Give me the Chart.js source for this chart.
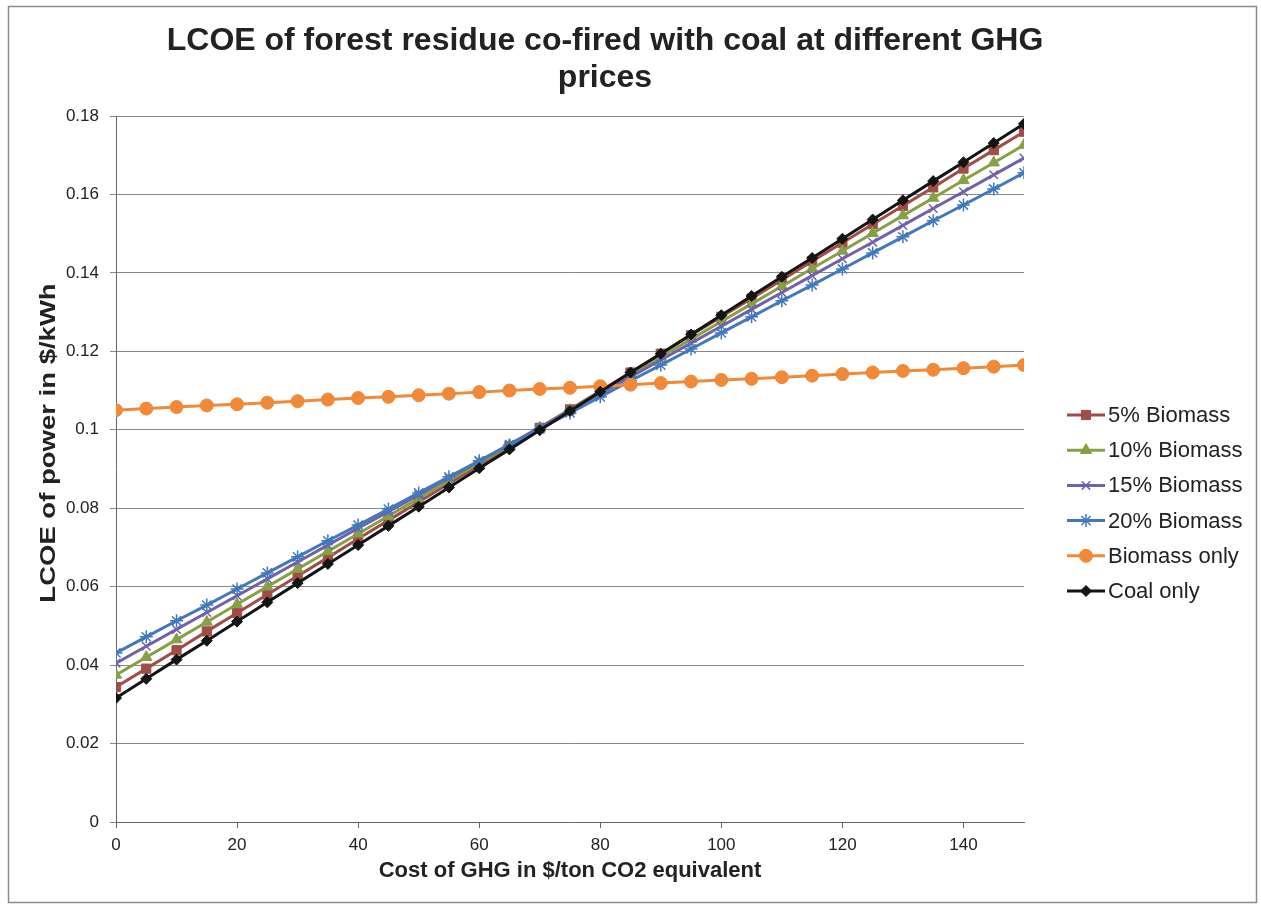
<!DOCTYPE html>
<html>
<head>
<meta charset="utf-8">
<script src="https://cdn.jsdelivr.net/npm/chart.js@4.4.1/dist/chart.umd.min.js"></script>
<style>
html,body{margin:0;padding:0;background:#fff;}
#wrap{width:1261px;height:907px;position:relative;}
</style>
</head>
<body>
<div id="wrap"><canvas id="c" width="1261" height="907"></canvas></div>
<script>
const titleLines = ["LCOE of forest residue co-fired with coal at different GHG", "prices"];
const xTitle = "Cost of GHG in $/ton CO2 equivalent";
const yTitle = "LCOE of power in $/kWh";

const ghgCost = [0,5,10,15,20,25,30,35,40,45,50,55,60,65,70,75,80,85,90,95,100,105,110,115,120,125,130,135,140,145,150];

const biomass5 = [0.0344,0.0391,0.0438,0.0486,0.0533,0.0580,0.0627,0.0674,0.0722,0.0769,0.0816,0.0863,0.0910,0.0958,0.1005,0.1052,0.1099,0.1146,0.1194,0.1241,0.1288,0.1335,0.1382,0.1430,0.1477,0.1524,0.1571,0.1618,0.1666,0.1713,0.1760];
const biomass10 = [0.0375,0.0420,0.0465,0.0510,0.0555,0.0600,0.0645,0.0690,0.0735,0.0780,0.0825,0.0870,0.0915,0.0960,0.1005,0.1050,0.1096,0.1141,0.1186,0.1231,0.1276,0.1321,0.1366,0.1411,0.1456,0.1501,0.1546,0.1591,0.1636,0.1681,0.1726];
const biomass15 = [0.0405,0.0448,0.0491,0.0534,0.0577,0.0620,0.0663,0.0706,0.0749,0.0791,0.0834,0.0877,0.0920,0.0963,0.1006,0.1049,0.1092,0.1135,0.1178,0.1221,0.1264,0.1307,0.1350,0.1393,0.1436,0.1478,0.1521,0.1564,0.1607,0.1650,0.1693];
const biomass20 = [0.0431,0.0472,0.0513,0.0553,0.0594,0.0635,0.0676,0.0717,0.0757,0.0798,0.0839,0.0880,0.0921,0.0961,0.1002,0.1043,0.1084,0.1125,0.1165,0.1206,0.1247,0.1288,0.1329,0.1369,0.1410,0.1451,0.1492,0.1533,0.1573,0.1614,0.1655];
const biomassOnly = [0.1050,0.1054,0.1058,0.1062,0.1065,0.1069,0.1073,0.1077,0.1081,0.1084,0.1088,0.1092,0.1096,0.1100,0.1104,0.1107,0.1111,0.1115,0.1119,0.1123,0.1127,0.1130,0.1134,0.1138,0.1142,0.1146,0.1150,0.1153,0.1157,0.1161,0.1165];
const coalOnly = [0.0316,0.0365,0.0414,0.0462,0.0511,0.0560,0.0609,0.0658,0.0706,0.0755,0.0804,0.0853,0.0902,0.0950,0.0999,0.1048,0.1097,0.1146,0.1194,0.1243,0.1292,0.1341,0.1390,0.1438,0.1487,0.1536,0.1585,0.1634,0.1682,0.1731,0.1780];

const seriesNames = ["5% Biomass","10% Biomass","15% Biomass","20% Biomass","Biomass only","Coal only"];
const seriesValues = [biomass5, biomass10, biomass15, biomass20, biomassOnly, coalOnly];
const seriesColors = ["#A04D48","#86A043","#7161AB","#4179BC","#F08A38","#141414"];
const seriesMarkers = ["rect","triangle","crossRot","star","circle","rectRot"];
const markerRadius = [6.5,6.5,6,6.5,6.5,5.5];

const FONT = 'Arial, "Liberation Sans", Helvetica, sans-serif';
Chart.defaults.font.family = FONT;
Chart.defaults.color = '#222';

const datasets = seriesNames.map((name, i) => ({
  label: name,
  data: ghgCost.map((x, j) => ({x: x, y: seriesValues[i][j]})),
  borderColor: seriesColors[i],
  backgroundColor: seriesColors[i],
  pointBackgroundColor: seriesColors[i],
  pointBorderColor: seriesColors[i],
  borderWidth: 3,
  pointStyle: seriesMarkers[i],
  pointRadius: markerRadius[i],
  pointBorderWidth: (seriesMarkers[i] === 'crossRot' || seriesMarkers[i] === 'star') ? 1.5 : 1,
  tension: 0,
  order: seriesNames.length - i
}));

const framePlugin = {
  id: 'frame',
  beforeDraw(chart) {
    const ctx = chart.ctx;
    ctx.save();
    ctx.fillStyle = '#fff';
    ctx.fillRect(0, 0, chart.width, chart.height);
    ctx.strokeStyle = '#8a8a8a';
    ctx.lineWidth = 1.5;
    ctx.strokeRect(8.5, 6.5, 1248, 896);
    ctx.restore();
  },
  afterDraw(chart) {
    const ctx = chart.ctx;
    ctx.save();
    // chart title
    ctx.fillStyle = '#222';
    ctx.font = 'bold 32px ' + FONT;
    ctx.textAlign = 'center';
    ctx.textBaseline = 'middle';
    ctx.fillText(titleLines[0], 605, 41);
    ctx.fillText(titleLines[1], 605, 78);
    // y axis title (stretched along its direction like the reference)
    ctx.save();
    ctx.translate(49, 443);
    ctx.rotate(-Math.PI / 2);
    ctx.scale(1.25, 1);
    ctx.font = 'bold 22px ' + FONT;
    ctx.fillText(yTitle, 0, 0);
    ctx.restore();
    // legend
    const x0 = 1067, x1 = 1105, tx = 1108;
    const y0 = 415, dy = 35.2;
    ctx.textAlign = 'left';
    ctx.font = '22px ' + FONT;
    chart.data.datasets.forEach((ds, i) => {
      const y = y0 + i * dy;
      ctx.strokeStyle = ds.borderColor;
      ctx.lineWidth = 3;
      ctx.beginPath();
      ctx.moveTo(x0, y);
      ctx.lineTo(x1, y);
      ctx.stroke();
      ctx.fillStyle = ds.backgroundColor;
      ctx.strokeStyle = ds.borderColor;
      ctx.lineWidth = ds.pointBorderWidth;
      Chart.helpers.drawPoint(ctx, {pointStyle: ds.pointStyle, radius: ds.pointRadius, rotation: 0, borderWidth: ds.pointBorderWidth}, (x0 + x1) / 2, y);
      ctx.fillStyle = '#222';
      ctx.fillText(ds.label, tx, y + 1);
    });
    ctx.restore();
  }
};

new Chart(document.getElementById('c'), {
  type: 'line',
  data: { datasets: datasets },
  options: {
    responsive: false,
    animation: false,
    events: [],
    layout: { padding: { top: 116, right: 237, bottom: 0, left: 0 } },
    plugins: { legend: { display: false }, title: { display: false }, tooltip: { enabled: false } },
    scales: {
      x: {
        type: 'linear',
        min: 0, max: 150,
        afterFit(s) { s.height = 85; },
        ticks: {
          stepSize: 20,
          color: '#222',
          font: { size: 17 },
          padding: 7,
          maxRotation: 0,
          callback: v => (v % 20 === 0 ? String(v) : null)
        },
        grid: { drawOnChartArea: false, drawTicks: true, tickLength: 6, color: '#666' },
        border: { color: '#666', width: 1 },
        title: { display: true, text: xTitle, font: { size: 22, weight: 'bold' }, color: '#222', padding: { top: 0, bottom: 23 } }
      },
      y: {
        min: 0, max: 0.18,
        afterFit(s) { s.width = 116; },
        ticks: {
          stepSize: 0.02,
          color: '#222',
          font: { size: 17 },
          padding: 11,
          callback: v => String(Number(v.toFixed(2)))
        },
        grid: { drawOnChartArea: true, drawTicks: true, tickLength: 6, color: '#888' },
        border: { color: '#666', width: 1 },
        title: { display: false }
      }
    }
  },
  plugins: [framePlugin]
});
</script>
</body>
</html>
